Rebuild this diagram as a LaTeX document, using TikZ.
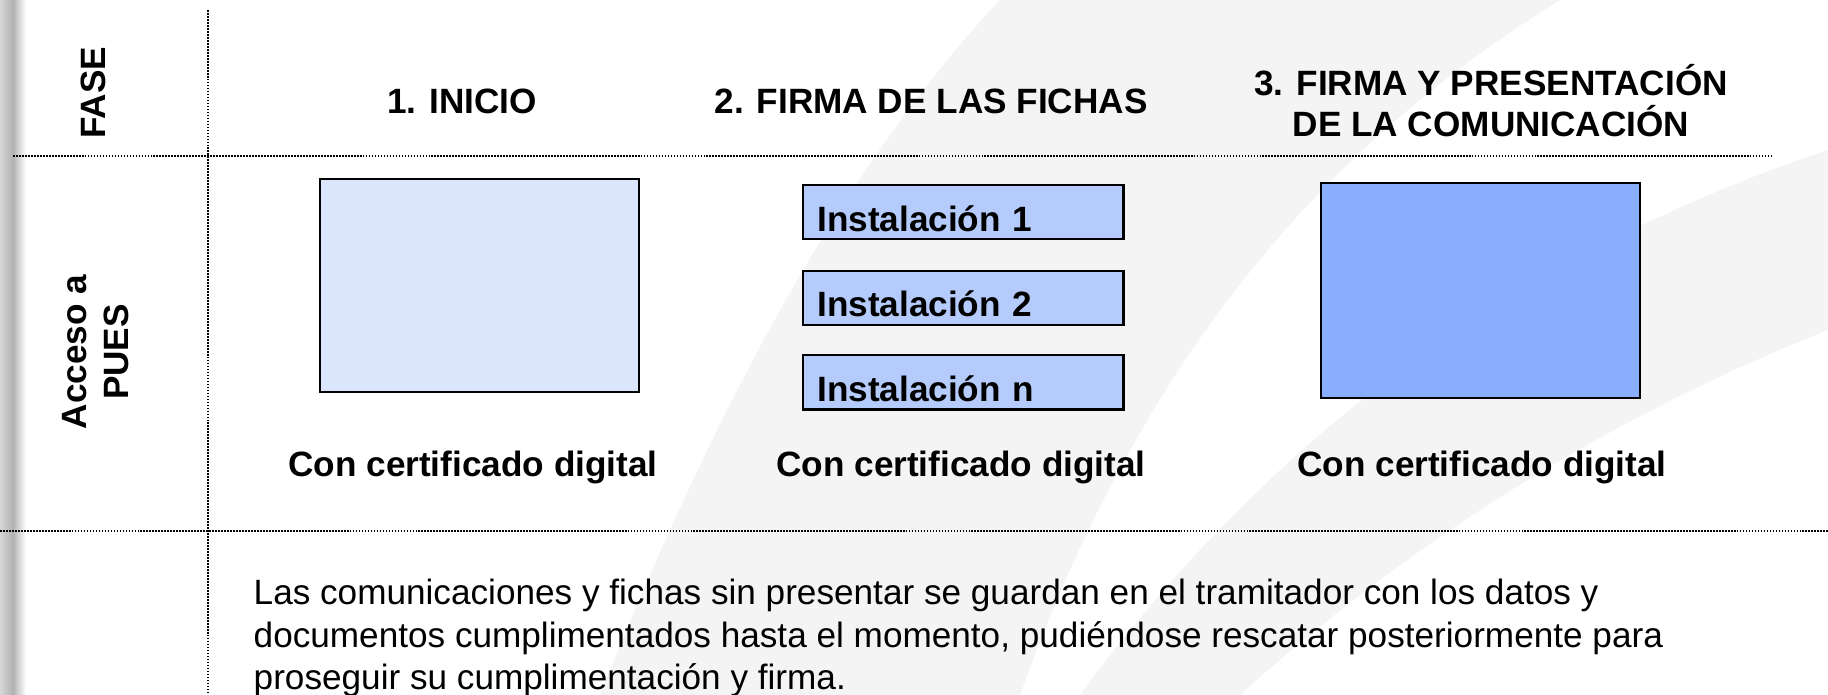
\documentclass[tikz,border=0pt]{standalone}
\usepackage{xcolor}
\usepackage{fontspec}
\setmainfont{Liberation Sans}
\usetikzlibrary{positioning}

\definecolor{paleblue}{RGB}{219,229,252}
\definecolor{midblue}{RGB}{180,203,252}
\definecolor{deepblue}{RGB}{136,174,252}
\definecolor{swoosh}{RGB}{244,244,244}

\begin{document}
\begin{tikzpicture}[x=0.01cm, y=-0.01cm, font=\fontsize{10}{12.2}\selectfont\bfseries]

    \tikzstyle{rule}=[line width=0.6pt, dash pattern=on 0.5pt off 0.35pt]
    \tikzstyle{panel}=[draw=black, line width=0.7pt, inner sep=0pt, minimum width=3.19cm]
    \tikzstyle{inst}=[draw=black, line width=0.7pt, fill=midblue, minimum width=3.2cm, text width=2.92cm, inner xsep=0.14cm, inner ysep=0pt, text height=0.46cm, text depth=0.08cm, align=left]
    \tikzstyle{phase}=[anchor=base, inner sep=0pt]

    \path[use as bounding box, fill=white] (0,0) rectangle (1828,695);

    \fill[swoosh] (600,695) .. controls (710,420) and (840,170) .. (1000,0) -- (1560,0) .. controls (1350,130) and (1150,330) .. (1020,695) -- cycle;
    \fill[swoosh] (1080,695) .. controls (1260,450) and (1500,260) .. (1828,150) -- (1828,330) .. controls (1600,420) and (1400,550) .. (1240,695) -- cycle;
    \shade[left color=black!16, right color=black!30] (0,0) rectangle (13,695);
    \shade[left color=black!30, right color=white] (13,0) rectangle (26,695);

    \draw[rule] (208,10) -- (208,695);
    \draw[rule] (13,156) -- (1773,156);
    \draw[rule] (0,531) -- (1828,531);

    \node[phase, rotate=90] (FASE) at (105,93) {FASE};
    \node[rotate=90, anchor=south, inner sep=0pt, align=center] (ACCESO) at (130,352) {Acceso a\\PUES};

    \node[phase] (INICIO) at (462,114) {1. INICIO};
    \node[phase] (FICHAS) at (931,114) {2. FIRMA DE LAS FICHAS};
    \node[anchor=south, inner sep=0pt, align=center, font=\fontsize{10}{11.7}\selectfont\bfseries] (PRESENTACION) at (1491,138) {3. FIRMA Y PRESENTACIÓN\\DE LA COMUNICACIÓN};

    \node[panel, fill=paleblue, minimum height=2.13cm] (BOXINICIO) at (479.5,285.5) {};
    \node[inst, anchor=north west] (INST1) at (802,184) {Instalación 1};
    \node[inst, below=0.29cm of INST1] (INST2) {Instalación 2};
    \node[inst, below=0.28cm of INST2] (INSTN) {Instalación n};
    \node[panel, fill=deepblue, minimum height=2.15cm] (BOXPRESENTACION) at (1480.5,290.5) {};

    \node[phase] (CERT1) at (473,477) {Con certificado digital};
    \node[phase] (CERT2) at (961,477) {Con certificado digital};
    \node[phase] (CERT3) at (1482,477) {Con certificado digital};

    \node[anchor=north west, inner sep=0pt, align=left, font=\fontsize{10}{12.2}\selectfont\mdseries] (NOTA) at (253,578) {Las comunicaciones y fichas sin presentar se guardan en el tramitador con los datos y\\documentos cumplimentados hasta el momento, pudiéndose rescatar posteriormente para\\proseguir su cumplimentación y firma.};

\end{tikzpicture}
\end{document}
